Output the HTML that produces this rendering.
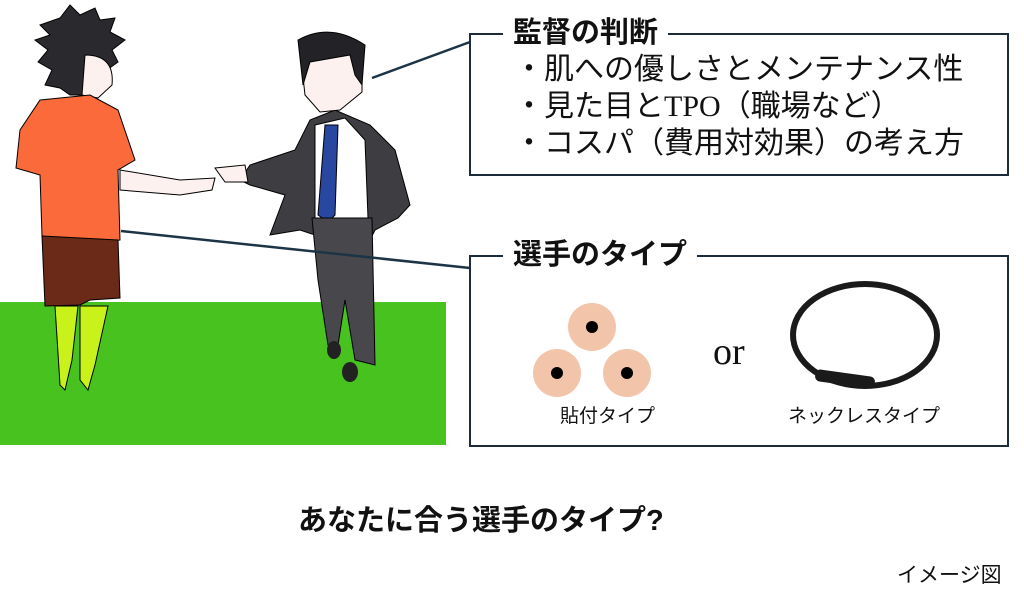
<!DOCTYPE html>
<html><head><meta charset="utf-8"><style>
body{margin:0;width:1024px;height:597px;background:#fff;position:relative;overflow:hidden;font-family:"Liberation Sans","Noto Sans CJK JP",sans-serif;color:#111}
.a{position:absolute;white-space:nowrap}
.box{position:absolute;border:2.5px solid #1c2c3a;box-sizing:border-box}
.h{position:absolute;background:#fff;font-weight:bold;font-size:29px;padding:0 10px;line-height:32px}
</style></head><body>
<svg class="a" style="left:0;top:0" width="1024" height="597">
<rect x="0" y="302" width="446" height="143" fill="#47c21f"/>
<path d="M40,25 L60,18 L70,5 L80,15 L95,8 L100,20 L115,18 L110,32 L125,40 L112,50 L118,62 L100,75 L95,95 L70,95 L60,88 L45,85 L52,70 L38,62 L48,50 L35,40 L50,35Z" fill="#2a2a2e" stroke="#000"/>
<path d="M85,55 Q115,55 112,85 L98,98 L82,95Z" fill="#fdf1ef" stroke="#000"/>
<path d="M120,170 L180,180 L215,178 L212,190 L180,195 L120,190Z" fill="#fdf1ef" stroke="#000"/>
<path d="M40,100 L90,95 L118,110 L135,160 L118,170 L120,240 L85,246 L42,236 L40,175 L16,168 L20,130Z" fill="#fb6a3a" stroke="#000"/>
<path d="M42,236 L118,240 L120,298 L90,300 L80,305 L45,306Z" fill="#6b2a17" stroke="#000"/>
<path d="M55,306 L78,306 L72,360 L65,390 L60,385 Z M80,306 L108,306 L95,365 L88,390 L80,380Z" fill="#c9f21a" stroke="#000"/>
<path d="M240,180 L250,165 L295,150 L310,120 L335,110 L370,125 L395,150 L410,205 L398,218 L375,230 L370,240 L330,240 L300,230 L270,235 L285,195 L250,185Z" fill="#3d3d42" stroke="#000"/>
<path d="M215,168 L245,165 L248,182 L225,182Z" fill="#fdf1ef" stroke="#000"/>
<path d="M315,125 L345,118 L365,140 L368,218 L315,220Z" fill="#fff" stroke="#000"/>
<path d="M325,125 L338,125 L335,215 L328,222 L318,215Z" fill="#2847a0" stroke="#000"/>
<path d="M312,218 L372,218 L375,365 L355,360 L345,300 L338,345 L328,345 L318,280Z" fill="#48484c" stroke="#000"/>
<ellipse cx="350" cy="372" rx="8" ry="10" fill="#222"/><ellipse cx="334" cy="350" rx="7" ry="9" fill="#222"/>
<path d="M300,50 Q330,25 362,45 L362,92 L340,110 L320,112 L305,95Z" fill="#fdf1ef" stroke="#000"/>
<path d="M298,40 Q330,22 365,45 L362,85 L355,75 L350,55 L310,62 L303,85Z" fill="#232327" stroke="#000"/>
<line x1="372" y1="78" x2="470" y2="42" stroke="#1c3445" stroke-width="2.5"/>
<line x1="121" y1="231" x2="470" y2="268" stroke="#1c3445" stroke-width="2.5"/>
<g fill="#f2c4aa"><circle cx="592" cy="327" r="24"/><circle cx="557" cy="373" r="24"/><circle cx="627" cy="373" r="24"/></g>
<g fill="#000"><circle cx="592" cy="327" r="6"/><circle cx="557" cy="373" r="6"/><circle cx="627" cy="373" r="6"/></g>
<ellipse cx="865" cy="335" rx="72" ry="51" fill="none" stroke="#1a1a1a" stroke-width="6"/>
<rect x="815" y="373" width="60" height="12" rx="5" fill="#1a1a1a" transform="rotate(8 845 379)"/>
</svg>
<div class="box" style="left:469px;top:33px;width:540px;height:143px"></div>
<div class="h" style="left:503px;top:17px">監督の判断</div>
<div class="a" style="left:514px;top:51px;font-size:30px;line-height:37px">・肌への優しさとメンテナンス性<br>・見た目と<span style="font-family:'Liberation Serif',serif">TPO</span>（職場など）<br>・コスパ（費用対効果）の考え方</div>
<div class="box" style="left:469px;top:255px;width:540px;height:192px"></div>
<div class="h" style="left:503px;top:239px">選手のタイプ</div>
<div class="a" style="left:560px;top:401px;font-size:19px">貼付タイプ</div>
<div class="a" style="left:788px;top:401px;font-size:19px">ネックレスタイプ</div>
<div class="a" style="left:713px;top:330px;font-size:38px;font-family:'Liberation Serif',serif">or</div>
<div class="a" style="left:298px;top:497px;font-size:29px;font-weight:bold">あなたに合う選手のタイプ?</div>
<div class="a" style="left:897px;top:559px;font-size:21px">イメージ図</div>
</body></html>
